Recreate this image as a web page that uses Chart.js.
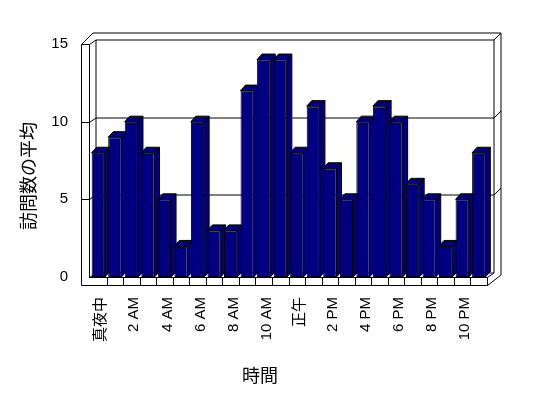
<!DOCTYPE html>
<html><head><meta charset="utf-8">
<script src="https://cdn.jsdelivr.net/npm/chart.js@4/dist/chart.umd.min.js"></script>
<style>html,body{margin:0;padding:0;background:#fff}canvas{display:block}</style>
</head><body>
<canvas id="c" width="548" height="398"></canvas>
<script>
const categories = ['真夜中','1 AM','2 AM','3 AM','4 AM','5 AM','6 AM','7 AM','8 AM','9 AM','10 AM','11 AM',
  '正午','1 PM','2 PM','3 PM','4 PM','5 PM','6 PM','7 PM','8 PM','9 PM','10 PM','11 PM'];
const visits = [8,9,10,8,5,2,10,3,3,12,14,14,8,11,7,5,10,11,10,6,5,2,5,8];
const yTicks = [0,5,10,15];
const xTitle = '時間';
const yTitle = '訪問数の平均';

const NAVY = '#000080';
const px = v => Math.round(v) + 0.5;

const walls3d = {
  id: 'walls3d',
  beforeDatasetsDraw(chart) {
    const ctx = chart.ctx, ca = chart.chartArea, ys = chart.scales.y;
    const L = px(ca.left - 1), R = px(ca.right - 0.5), T = px(ca.top), B = px(ca.bottom);
    const W = 8, F = 8, Dx = 6.5, Dy = -4.5, Ex = 7, Ey = -7;
    ctx.save();
    ctx.lineWidth = 1; ctx.strokeStyle = '#000'; ctx.fillStyle = '#fff';
    const line = (pts) => { ctx.beginPath(); ctx.moveTo(pts[0][0], pts[0][1]); for (let i = 1; i < pts.length; i++) ctx.lineTo(pts[i][0], pts[i][1]); ctx.stroke(); };
    const topY = T + Dy + Ey;
    // outer silhouette
    ctx.beginPath();
    ctx.moveTo(L - W, T);
    ctx.lineTo(L - W + (T - topY), topY);
    ctx.lineTo(R + Dx + Ex, topY);
    ctx.lineTo(R + Dx + Ex, B + Dy + Ey + 9);
    ctx.lineTo(R, B + F);
    ctx.lineTo(L - W, B + F);
    ctx.closePath();
    ctx.fill(); ctx.stroke();
    // inner edges
    line([[L - W, T], [L, T], [L, B]]);
    line([[L, T], [L + Dx, T + Dy], [R + Dx, T + Dy], [R + Dx + Ex, T + Dy + Ey]]);
    line([[L + Dx, T + Dy], [L + Dx, B + Dy]]);
    line([[R + Dx, T + Dy], [R + Dx, B + Dy]]);
    line([[L, B], [R, B], [R, B + F]]);
    line([[R, B], [R + Dx, B + Dy]]);
    line([[L, B], [L + Dx, B + Dy], [R + Dx, B + Dy]]);
    // gridlines
    yTicks.forEach(v => {
      if (v === ys.min || v === ys.max) return;
      const y = px(ys.getPixelForValue(v));
      line([[L - W, y], [L, y], [L + Dx, y + Dy], [R + Dx, y + Dy], [R + Dx + Ex, y + Dy + Ey]]);
    });
    // floor ticks at category boundaries
    const xs = chart.scales.x;
    const n = categories.length;
    for (let i = 1; i < n; i++) {
      const x = px((xs.getPixelForValue(i - 1) + xs.getPixelForValue(i)) / 2);
      line([[x, B], [x, B + F]]);
    }
    // bar sides and tops
    const bx = 5, by = -5.5;
    ctx.fillStyle = NAVY;
    chart.getDatasetMeta(0).data.forEach(bar => {
      const l = bar.x - bar.width / 2, r = bar.x + bar.width / 2, t = bar.y, b = bar.base;
      ctx.beginPath();
      ctx.moveTo(r, t); ctx.lineTo(r + bx, t + by); ctx.lineTo(r + bx, b + by); ctx.lineTo(r, b); ctx.closePath();
      ctx.fill(); ctx.stroke();
      ctx.beginPath();
      ctx.moveTo(l, t); ctx.lineTo(r, t); ctx.lineTo(r + bx, t + by); ctx.lineTo(l + bx, t + by); ctx.closePath();
      ctx.fill(); ctx.stroke();
    });
    ctx.restore();
  },
  afterDraw(chart) {
    const ctx = chart.ctx;
    ctx.save();
    ctx.fillStyle = '#000';
    ctx.font = '18px "Noto Sans CJK JP"';
    ctx.textAlign = 'center'; ctx.textBaseline = 'middle';
    ctx.fillText(xTitle, 260, 375);
    ctx.translate(28, 176); ctx.rotate(-Math.PI / 2);
    ctx.fillText(yTitle, 0, 0);
    ctx.restore();
  }
};

Chart.defaults.color = '#000';
new Chart(document.getElementById('c'), {
  type: 'bar',
  data: {
    labels: categories,
    datasets: [{
      data: visits,
      backgroundColor: NAVY,
      borderColor: '#000',
      borderWidth: 1,
      borderSkipped: false,
      categoryPercentage: 1,
      barPercentage: 0.8
    }]
  },
  options: {
    responsive: false,
    animation: false,
    devicePixelRatio: 1,
    layout: { padding: { top: 44, right: 61, bottom: 0, left: 0 } },
    plugins: { legend: { display: false }, tooltip: { enabled: false } },
    scales: {
      x: {
        grid: { display: false, drawTicks: false },
        border: { display: false },
        ticks: {
          autoSkip: false, minRotation: 90, maxRotation: 90, padding: 20, labelOffset: 3,
          font: { family: '"Liberation Sans", "Noto Sans CJK JP"', size: 15 },
          callback: (v, i) => (i % 2 === 0 ? categories[i] : '')
        },
        afterFit: s => { s.height = 121; }
      },
      y: {
        min: 0, max: 15,
        grid: { display: false, drawTicks: false },
        border: { display: false },
        ticks: {
          stepSize: 5, padding: 22,
          font: { family: '"Liberation Sans", "Noto Sans CJK JP"', size: 15 }
        },
        afterFit: s => { s.width = 90; }
      }
    }
  },
  plugins: [walls3d]
});
</script>
</body></html>
